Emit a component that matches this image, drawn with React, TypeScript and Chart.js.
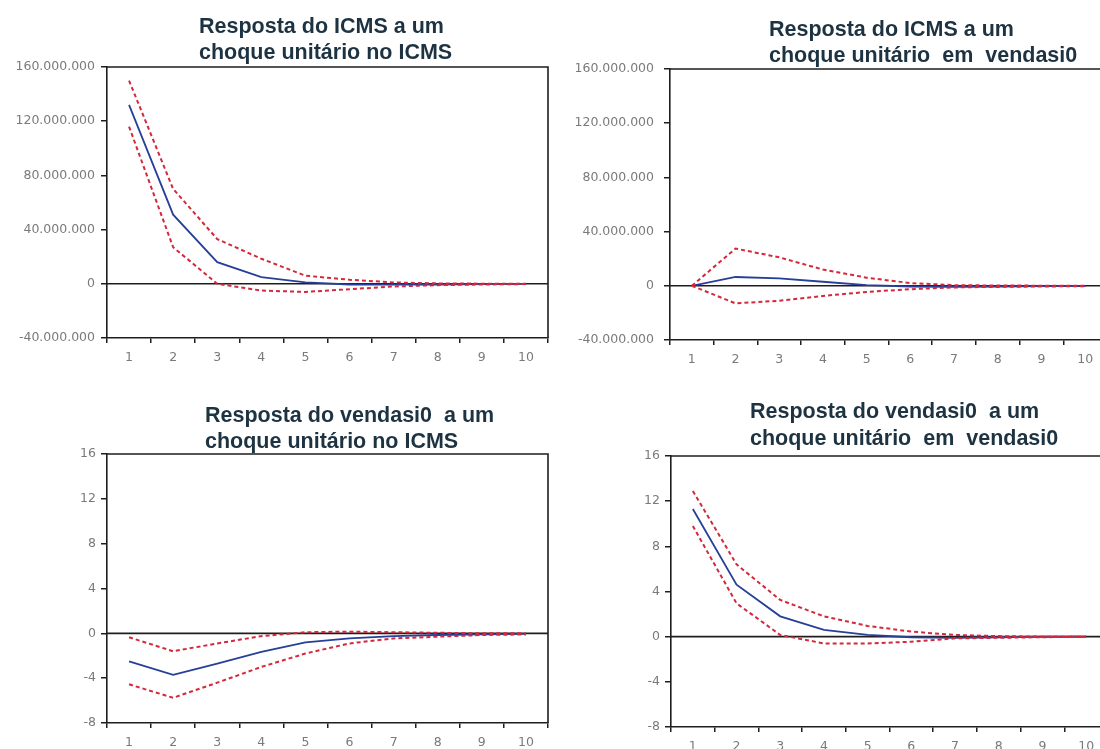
import React, { useEffect, useRef } from "react";
import { Chart, registerables } from "chart.js";

Chart.register(...registerables);

// ---- data ----
const periods = ["1", "2", "3", "4", "5", "6", "7", "8", "9", "10"];

// ICMS response to ICMS shock
const icmsIcms = [132e6, 51e6, 16e6, 5e6, 1e6, -0.5e6, -0.6e6, -0.5e6, -0.3e6, -0.1e6];
const icmsIcmsUp = [150e6, 70e6, 33e6, 18.5e6, 6e6, 3e6, 1e6, 0.3e6, 0.1e6, 0];
const icmsIcmsLo = [116e6, 27e6, 0, -5e6, -6e6, -4e6, -2e6, -1e6, -0.5e6, -0.2e6];

// ICMS response to vendasi0 shock
const icmsVend = [0, 6.5e6, 5.5e6, 3e6, 0.5e6, -0.5e6, -0.7e6, -0.5e6, -0.3e6, -0.2e6];
const icmsVendUp = [0, 27.5e6, 21e6, 12e6, 6e6, 2e6, 0.5e6, 0.2e6, 0.1e6, 0];
const icmsVendLo = [0, -13e6, -11e6, -7.5e6, -4.5e6, -2.5e6, -1.2e6, -0.8e6, -0.5e6, -0.3e6];

// vendasi0 response to ICMS shock
const vendIcms = [-2.5, -3.7, -2.7, -1.65, -0.8, -0.45, -0.25, -0.15, -0.1, -0.05];
const vendIcmsUp = [-0.35, -1.6, -0.9, -0.25, 0.1, 0.15, 0.1, 0.05, 0, 0];
const vendIcmsLo = [-4.55, -5.75, -4.4, -3.0, -1.8, -0.9, -0.45, -0.3, -0.15, -0.1];

// vendasi0 response to vendasi0 shock
const vendVend = [11.3, 4.6, 1.8, 0.6, 0.15, -0.05, -0.1, -0.05, 0, 0];
const vendVendUp = [12.9, 6.4, 3.25, 1.8, 0.95, 0.45, 0.15, 0.05, 0, 0];
const vendVendLo = [9.8, 2.95, 0.15, -0.6, -0.6, -0.45, -0.15, -0.1, -0.05, 0];

const icmsAxis = { min: -40e6, max: 160e6, step: 40e6 };
const vendAxis = { min: -8, max: 16, step: 4 };

const titleTL = ["Resposta do ICMS a um", "choque unitário no ICMS"];
const titleTR = ["Resposta do ICMS a um", "choque unitário  em  vendasi0"];
const titleBL = ["Resposta do vendasi0  a um", "choque unitário no ICMS"];
const titleBR = ["Resposta do vendasi0  a um", "choque unitário  em  vendasi0"];

// ---- styles ----
const BLUE = "#263f98";
const RED = "#d4283c";
const AXIS = "#1e1e1e";
const TICK = "#7a7a7a";
const TITLE = "#1d3342";

const fmtBR = (v: number) => {
  const s = Math.abs(Math.round(v))
    .toString()
    .replace(/\B(?=(\d{3})+(?!\d))/g, ".");
  return (v < 0 ? "-" : "") + s;
};

type Area = { left: number; top: number; right: number; bottom: number };

type PanelProps = {
  x: number;
  y: number;
  w: number;
  h: number;
  area: Area;
  title: string[];
  titleX: number;
  titleY: number[];
  irf: number[];
  up: number[];
  lo: number[];
  axis: { min: number; max: number; step: number };
  yPad: number;
};

function Panel(p: PanelProps) {
  const ref = useRef<HTMLCanvasElement | null>(null);
  useEffect(() => {
    if (!ref.current) return;
    const deco = {
      id: "deco",
      beforeDatasetsDraw(chart: any) {
        const { ctx, chartArea } = chart;
        const y0 = chart.scales.y.getPixelForValue(0);
        ctx.save();
        ctx.strokeStyle = AXIS;
        ctx.lineWidth = 1.6;
        ctx.beginPath();
        ctx.moveTo(chartArea.left, y0);
        ctx.lineTo(chartArea.right, y0);
        ctx.stroke();
        ctx.restore();
      },
      afterDraw(chart: any) {
        const { ctx, chartArea } = chart;
        ctx.save();
        ctx.strokeStyle = AXIS;
        ctx.lineWidth = 1.6;
        ctx.beginPath();
        ctx.moveTo(chartArea.left, chartArea.top);
        ctx.lineTo(chartArea.right, chartArea.top);
        ctx.lineTo(chartArea.right, chartArea.bottom);
        ctx.stroke();
        ctx.fillStyle = TITLE;
        ctx.font = 'bold 21.5px "Liberation Sans", Arial, sans-serif';
        ctx.textAlign = "left";
        ctx.textBaseline = "alphabetic";
        p.title.forEach((t, i) => ctx.fillText(t, p.titleX, p.titleY[i]));
        ctx.restore();
      },
    };
    const tickFont = { family: '"DejaVu Sans", sans-serif', size: 12.5 };
    const chart = new Chart(ref.current, {
      type: "line",
      data: {
        labels: periods,
        datasets: [
          {
            data: p.up,
            borderColor: RED,
            borderWidth: 2,
            borderDash: [4, 3],
            pointRadius: 0,
            tension: 0,
          },
          {
            data: p.lo,
            borderColor: RED,
            borderWidth: 2,
            borderDash: [4, 3],
            pointRadius: 0,
            tension: 0,
          },
          {
            data: p.irf,
            borderColor: BLUE,
            borderWidth: 1.8,
            pointRadius: 0,
            tension: 0,
          },
        ],
      },
      options: {
        animation: false,
        responsive: false,
        maintainAspectRatio: false,
        devicePixelRatio: 1,
        layout: {
          padding: { top: p.area.top, right: p.w - p.area.right, left: 0, bottom: 0 },
        },
        plugins: {
          legend: { display: false },
          tooltip: { enabled: false },
          title: { display: false },
        },
        scales: {
          x: {
            type: "category",
            offset: true,
            grid: {
              offset: true,
              drawOnChartArea: false,
              drawTicks: true,
              tickLength: 5,
              color: AXIS,
              lineWidth: 1.5,
            },
            border: { display: true, color: AXIS, width: 1.6 },
            ticks: {
              color: TICK,
              font: tickFont,
              padding: 7,
              maxRotation: 0,
              autoSkip: false,
            },
            afterFit: (s: any) => {
              s.height = p.h - p.area.bottom;
            },
          },
          y: {
            min: p.axis.min,
            max: p.axis.max,
            ticks: {
              stepSize: p.axis.step,
              color: TICK,
              font: tickFont,
              padding: p.yPad,
              callback: (v: any) => fmtBR(Number(v)),
            },
            grid: {
              drawOnChartArea: false,
              drawTicks: true,
              tickLength: 6,
              color: AXIS,
              lineWidth: 1.5,
            },
            border: { display: true, color: AXIS, width: 1.6 },
            afterFit: (s: any) => {
              s.width = p.area.left;
            },
          },
        },
      } as any,
      plugins: [deco],
    });
    return () => chart.destroy();
  }, []);
  return (
    <canvas
      ref={ref}
      width={p.w}
      height={p.h}
      style={{ position: "absolute", left: p.x, top: p.y, width: p.w, height: p.h }}
    />
  );
}

export default function App() {
  return (
    <div
      style={{
        position: "fixed",
        left: 0,
        top: 0,
        width: 1100,
        height: 749,
        overflow: "hidden",
        background: "#ffffff",
      }}
    >
      <Panel
        x={0}
        y={0}
        w={560}
        h={375}
        area={{ left: 107, top: 67, right: 548, bottom: 338 }}
        title={titleTL}
        titleX={199}
        titleY={[33, 59]}
        irf={icmsIcms}
        up={icmsIcmsUp}
        lo={icmsIcmsLo}
        axis={icmsAxis}
        yPad={6}
      />
      <Panel
        x={560}
        y={0}
        w={560}
        h={375}
        area={{ left: 110, top: 69, right: 547, bottom: 340 }}
        title={titleTR}
        titleX={209}
        titleY={[36, 62]}
        irf={icmsVend}
        up={icmsVendUp}
        lo={icmsVendLo}
        axis={icmsAxis}
        yPad={10}
      />
      <Panel
        x={0}
        y={375}
        w={560}
        h={374}
        area={{ left: 107, top: 79, right: 548, bottom: 348 }}
        title={titleBL}
        titleX={205}
        titleY={[47, 73]}
        irf={vendIcms}
        up={vendIcmsUp}
        lo={vendIcmsLo}
        axis={vendAxis}
        yPad={5}
      />
      <Panel
        x={560}
        y={375}
        w={560}
        h={374}
        area={{ left: 111, top: 81, right: 548, bottom: 352 }}
        title={titleBR}
        titleX={190}
        titleY={[43, 70]}
        irf={vendVend}
        up={vendVendUp}
        lo={vendVendLo}
        axis={vendAxis}
        yPad={5}
      />
    </div>
  );
}
